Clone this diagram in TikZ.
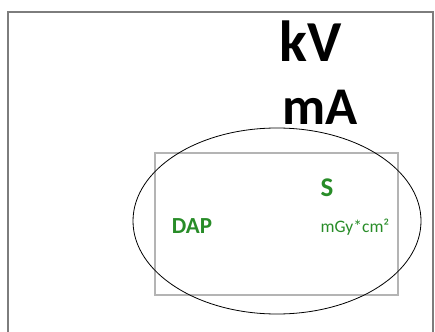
\documentclass[tikz,border=0pt]{standalone}
\usepackage{fontspec}
\setmainfont{Carlito}
\usetikzlibrary{positioning}
\definecolor{dapgreen}{RGB}{40,140,40}
\definecolor{framegray}{RGB}{125,125,125}
\definecolor{boxgray}{RGB}{180,180,180}
\tikzset{
    bigunit/.style={anchor=center, inner sep=0pt, font=\bfseries\fontsize{58}{60}\selectfont},
    greenlabel/.style={anchor=center, inner sep=0pt, text=dapgreen}
}

\begin{document}
\begin{tikzpicture}[x=1pt,y=-1pt]
                    \useasboundingbox (0,0) rectangle (435,331);
                    % outer frame, bottom edge lies outside the picture
                    \draw[framegray, line width=2.5pt] (8,340) -- (8,12) -- (433,12) -- (433,340);
                    % display box
                    \draw[boxgray, line width=1.5pt] (155,153) rectangle (398,295);
                    \draw[black, line width=0.8pt] (277,221) ellipse [x radius=144pt, y radius=93pt];

                    \node[bigunit] (kv) at (311,41) {kV};
                    \node[bigunit, font=\bfseries\fontsize{53}{55}\selectfont] (ma) at (320,107) {mA};

                    \node[greenlabel, font=\bfseries\fontsize{27}{29}\selectfont] (s) at (327,188) {S};
                    \node[greenlabel, font=\bfseries\fontsize{23}{25}\selectfont] (dap) at (192,226) {DAP};
                    \node[greenlabel, font=\fontsize{17.5}{19}\selectfont] (unit) at (355,227) {mGy*cm²};
                \end{tikzpicture}
\end{document}
